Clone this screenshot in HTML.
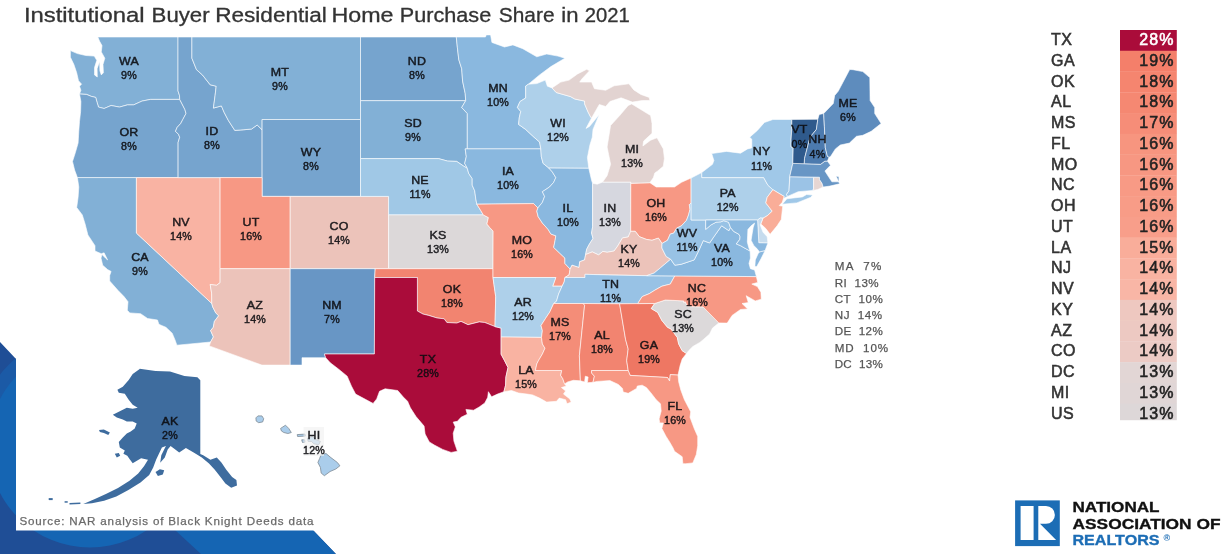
<!DOCTYPE html>
<html><head><meta charset="utf-8"><title>Institutional Buyer Residential Home Purchase Share in 2021</title>
<style>
html,body{margin:0;padding:0;background:#fff;}
body{width:1228px;height:554px;overflow:hidden;position:relative;font-family:"Liberation Sans",sans-serif;}
svg{position:absolute;left:0;top:0;}
svg text{font-family:"Liberation Sans",sans-serif;}
.map path{stroke:rgba(255,255,255,0.85);stroke-width:0.7;stroke-linejoin:round;}
.lab text{font-size:10.7px;text-anchor:middle;fill:#0c0c10;stroke:#0c0c10;stroke-width:0.45;letter-spacing:0.2px;opacity:0.9}
.ls{font-size:16px;fill:#333;stroke:#333;stroke-width:0.55;letter-spacing:0.5px}
.lv{font-size:16px;fill:#222;text-anchor:end;stroke-width:0.55;stroke:#222;letter-spacing:1px}
.sd{font-size:11.6px;fill:#555;stroke:#555;stroke-width:0.25}
</style></head><body>
<svg width="1228" height="554" viewBox="0 0 1228 554">
<!-- decorative corner -->
<g>
<path d="M0,342 L16,359 L16,530 L313,530 L336,554 L0,554Z" fill="#1f4e96"/>
<clipPath id="cp"><path d="M0,342 L16,359 L16,530 L313,530 L336,554 L0,554Z"/></clipPath>
<g clip-path="url(#cp)">
<path d="M175,530 L313,530 L336,554 L201,554Z" fill="#1565b3"/>
<path d="M-25,446 A115,115 0 0 1 205,446Z" fill="#1b5aa6"/>
<circle cx="90" cy="446" r="101.5" fill="#1565b3"/>
</g>
<rect x="16" y="340" width="380" height="190.5" fill="#fff"/>
</g>
<g font-size="19.7" fill="#333" stroke="#333" stroke-width="0.3"><text x="23.9" y="21.5" textLength="120.6" lengthAdjust="spacingAndGlyphs">Institutional</text><text x="151.6" y="21.5" textLength="58.0" lengthAdjust="spacingAndGlyphs">Buyer</text><text x="215.2" y="21.5" textLength="111.7" lengthAdjust="spacingAndGlyphs">Residential</text><text x="331.5" y="21.5" textLength="62.0" lengthAdjust="spacingAndGlyphs">Home</text><text x="399.8" y="21.5" textLength="91.4" lengthAdjust="spacingAndGlyphs">Purchase</text><text x="498.8" y="21.5" textLength="55.7" lengthAdjust="spacingAndGlyphs">Share</text><text x="561.3" y="21.5" textLength="17.2" lengthAdjust="spacingAndGlyphs">in</text><text x="584.8" y="21.5" textLength="45.0" lengthAdjust="spacingAndGlyphs">2021</text></g>
<g class="map">
<path d="M79.5,94.0 80.9,90.3 79.5,86.2 81.6,84.2 78.5,80.7 76.7,72.8 73.9,64.5 70.4,57.2 70.4,50.6 77.4,53.6 85.8,55.5 94.2,56.1 96.8,60.3 94.5,67.6 94.5,74.9 97.3,77.0 97.1,68.7 99.6,61.4 99.9,70.8 101.3,74.9 103.4,72.8 103.0,64.5 104.8,58.2 101.3,51.9 102.0,45.6 99.6,41.3 97.8,37.0 178.0,37.0 178.0,90.9 179.5,95.4 179.7,99.4 150.5,99.4 142.0,101.1 133.6,104.9 127.3,104.9 119.5,107.1 111.1,105.5 104.1,108.5 98.5,107.1 97.1,102.5 95.7,97.4 91.4,96.4 86.5,94.4 79.5,94.0Z" fill="#82b0d6"/>
<path d="M77.4,177.6 74.6,170.0 72.5,161.4 75.3,152.8 78.1,143.1 78.8,131.3 79.5,121.5 80.6,111.5 80.9,101.5 79.5,94.0 86.5,94.4 91.4,96.4 95.7,97.4 97.1,102.5 98.5,107.1 104.1,108.5 111.1,105.5 119.5,107.1 127.3,104.9 133.6,104.9 142.0,101.1 150.5,99.4 179.7,99.4 181.6,103.1 184.9,109.5 186.0,113.5 182.8,119.5 180.7,123.5 177.1,127.4 175.5,131.3 178.5,134.3 179.7,137.2 178.1,142.5 178.1,177.6 77.4,177.6Z" fill="#76a4ce"/>
<path d="M176.9,345.2 175.0,339.9 172.2,333.2 165.9,327.3 161.0,325.2 158.9,324.2 157.5,320.0 147.6,318.5 140.6,313.7 129.8,312.9 127.3,310.3 128.0,301.7 124.0,296.6 118.1,290.5 109.7,281.0 109.7,275.4 111.1,271.4 107.6,269.6 102.7,265.2 101.0,258.1 102.0,254.6 105.5,258.1 107.6,259.9 104.1,252.8 101.3,253.7 95.0,251.0 95.0,245.7 87.9,234.9 85.1,224.0 82.3,214.9 76.7,207.5 78.1,197.3 78.8,187.0 77.4,177.6 136.4,177.6 136.4,233.1 211.8,303.5 212.7,306.9 215.8,312.9 218.6,315.8 214.4,321.4 213.3,327.3 210.6,330.6 213.4,336.9 210.6,342.0Z" fill="#82b0d6"/>
<path d="M136.4,177.6 220.1,177.6 220.1,268.7 220.1,282.7 216.5,285.3 210.2,284.5 211.6,293.1 211.8,303.5 136.4,233.1 136.4,177.6Z" fill="#f9b3a3"/>
<path d="M178.0,37.0 178.0,90.9 179.5,95.4 179.7,99.4 181.6,103.1 184.9,109.5 186.0,113.5 182.8,119.5 180.7,123.5 177.1,127.4 175.5,131.3 178.5,134.3 179.7,137.2 178.1,142.5 178.1,177.6 262.1,177.6 262.1,129.8 257.2,125.0 251.6,129.0 243.2,129.8 234.8,130.4 228.4,120.5 224.2,112.5 221.4,105.9 213.4,108.1 215.1,95.4 216.2,86.2 210.2,84.8 202.4,74.9 196.5,69.7 191.9,58.2 191.9,37.0Z" fill="#76a4ce"/>
<path d="M191.9,37.0 191.9,58.2 196.5,69.7 202.4,74.9 210.2,84.8 216.2,86.2 215.1,95.4 213.4,108.1 221.4,105.9 224.2,112.5 228.4,120.5 234.8,130.4 243.2,129.8 251.6,129.0 257.2,125.0 262.1,129.8 262.1,119.5 360.5,119.5 360.5,37.0Z" fill="#82b0d6"/>
<path d="M262.1,119.5 360.5,119.5 360.5,196.4 262.1,196.4Z" fill="#76a4ce"/>
<path d="M220.1,177.6 262.1,177.6 262.1,196.4 290.2,196.4 290.2,268.7 220.1,268.7Z" fill="#f79884"/>
<path d="M290.2,196.4 388.6,196.4 388.6,268.7 290.2,268.7Z" fill="#ecc3ba"/>
<path d="M220.1,268.7 220.1,282.7 216.5,285.3 210.2,284.5 211.6,293.1 211.8,303.5 212.7,306.9 215.8,312.9 218.6,315.8 214.4,321.4 213.3,327.3 210.6,330.6 213.4,336.9 210.6,342.0 209.3,345.9 261.9,365.1 290.2,365.1 290.2,268.7Z" fill="#ecc3ba"/>
<path d="M290.2,268.7 375.2,268.7 374.7,277.5 374.4,354.0 324.4,354.0 325.7,357.7 302.0,357.7 302.0,365.1 290.2,365.1Z" fill="#6896c5"/>
<path d="M360.5,37.0 456.3,37.0 457.4,47.7 458.8,59.7 461.7,68.7 462.6,81.1 465.2,93.4 465.7,100.7 360.5,100.7Z" fill="#76a4ce"/>
<path d="M360.5,100.7 465.7,100.7 461.7,107.5 467.3,113.5 467.3,148.9 465.2,148.9 466.3,156.6 464.7,163.4 467.3,168.3 463.8,166.2 456.7,161.4 447.6,161.1 438.5,158.6 360.5,158.6Z" fill="#82b0d6"/>
<path d="M360.5,158.6 438.5,158.6 447.6,161.1 456.7,161.4 463.8,166.2 467.3,168.3 468.7,173.4 472.2,178.6 472.2,185.2 474.7,190.8 475.7,198.2 476.8,204.2 480.6,210.3 483.3,214.9 388.6,214.9 388.6,196.4 360.5,196.4Z" fill="#a0c8e6"/>
<path d="M388.6,214.9 483.3,214.9 488.4,217.6 486.9,224.0 489.8,227.6 493.1,231.1 493.0,268.7 388.6,268.7Z" fill="#dcd8d9"/>
<path d="M375.2,268.7 493.0,268.7 493.0,277.5 495.7,296.6 495.0,326.6 484.8,322.5 479.2,321.9 468.0,324.7 461.0,321.4 456.7,323.1 446.9,322.5 444.1,318.8 437.1,318.0 428.6,315.4 423.0,314.1 417.4,311.0 417.4,277.5 374.7,277.5Z" fill="#f28470"/>
<path d="M374.7,277.5 417.4,277.5 417.4,311.0 423.0,314.1 428.6,315.4 437.1,318.0 444.1,318.8 446.9,322.5 456.7,323.1 461.0,321.4 468.0,324.7 479.2,321.9 484.8,322.5 495.0,326.6 501.1,328.1 501.1,337.0 501.1,354.2 504.5,360.6 508.0,367.5 505.9,377.0 505.6,385.2 503.9,391.7 497.5,394.1 491.6,396.8 488.4,391.7 487.7,397.3 484.8,402.9 479.2,407.0 473.6,410.2 465.9,409.4 467.3,414.2 461.0,417.3 457.4,421.3 453.2,422.1 455.3,426.9 453.2,433.2 453.9,441.1 457.4,451.3 451.1,452.4 442.7,449.4 434.3,445.0 429.3,441.9 425.1,434.0 424.1,426.1 416.0,416.5 410.4,407.8 407.6,401.3 403.3,397.0 397.7,390.5 385.1,388.8 379.5,391.3 376.7,398.9 373.1,403.4 364.0,398.6 355.6,394.1 351.4,386.0 347.2,376.2 338.7,369.2 330.3,362.8 325.7,357.7 324.4,354.0 374.4,354.0Z" fill="#aa0c3a"/>
<path d="M456.3,37.0 485.5,37.0 486.2,34.9 490.6,34.9 491.9,42.4 504.5,47.0 512.9,44.9 522.8,48.7 536.8,56.8 546.7,54.0 557.9,56.1 564.9,58.2 550.9,66.6 539.6,74.9 528.4,84.2 525.7,86.0 525.7,98.0 520.0,101.5 517.4,107.5 520.7,111.5 519.3,117.5 518.6,124.4 525.6,129.4 534.0,137.2 539.6,142.1 540.8,148.9 467.3,148.9 467.3,113.5 461.7,107.5 465.7,100.7 465.2,93.4 462.6,81.1 461.7,68.7 458.8,59.7 457.4,47.7 456.3,37.0Z" fill="#8ab8df"/>
<path d="M467.3,148.9 540.8,148.9 541.3,156.6 543.1,163.4 548.9,168.1 552.3,171.9 555.8,177.6 553.7,182.3 549.5,187.0 542.4,191.7 544.6,196.4 542.4,202.3 537.9,207.9 533.6,203.6 476.8,204.2 475.7,198.2 474.7,190.8 472.2,185.2 472.2,178.6 468.7,173.4 467.3,168.3 464.7,163.4 466.3,156.6 465.2,148.9Z" fill="#8ab8df"/>
<path d="M476.8,204.2 533.6,203.6 537.9,207.9 536.8,211.2 538.2,216.7 542.4,223.1 548.1,229.4 550.9,234.0 555.8,235.8 555.1,240.3 553.7,247.4 559.3,252.8 564.9,258.1 564.9,263.4 570.1,269.1 569.1,274.9 564.9,277.5 564.2,281.9 562.1,286.2 552.7,286.2 555.8,277.5 493.0,277.5 493.0,268.7 493.1,231.1 489.8,227.6 486.9,224.0 488.4,217.6 483.3,214.9 480.6,210.3 476.8,204.2Z" fill="#f79884"/>
<path d="M493.0,277.5 555.8,277.5 552.7,286.2 562.1,286.2 558.6,294.0 556.5,301.2 553.7,303.5 549.8,312.0 545.3,318.8 541.0,325.6 542.4,330.6 541.5,337.4 501.1,337.0 501.1,328.1 495.0,326.6 495.7,296.6Z" fill="#aed0ea"/>
<path d="M501.1,337.0 541.5,337.4 542.4,344.0 545.0,348.2 542.4,354.0 538.5,360.6 536.8,363.9 535.4,370.5 561.7,370.5 560.7,375.4 562.8,378.7 564.6,383.9 566.3,386.0 561.4,387.6 565.6,390.9 563.5,394.1 569.8,398.9 571.2,402.1 567.0,403.8 565.6,399.7 559.3,398.1 556.5,401.3 546.7,402.1 539.6,398.1 532.6,394.9 527.0,394.1 518.6,393.0 511.5,390.5 503.9,391.7 505.6,385.2 505.9,377.0 508.0,367.5 504.5,360.6 501.1,354.2 501.1,337.0Z" fill="#f9b3a2"/>
<path d="M528.4,84.2 536.8,83.6 545.3,80.1 547.4,86.2 552.0,87.9 556.2,92.5 570.5,96.6 574.8,99.0 584.6,101.1 584.6,103.9 588.1,112.1 590.9,117.5 591.6,117.9 586.0,128.4 589.5,126.4 599.3,114.5 593.0,129.4 592.3,137.2 589.9,145.0 587.4,157.6 588.8,168.3 548.9,168.1 543.1,163.4 541.3,156.6 540.8,148.9 539.6,142.1 534.0,137.2 525.6,129.4 518.6,124.4 519.3,117.5 520.7,111.5 517.4,107.5 520.0,101.5 525.7,98.0 525.7,86.0 528.4,84.2Z" fill="#aed0ea"/>
<path d="M548.9,168.1 588.8,168.3 591.6,180.4 592.6,183.3 592.6,226.7 591.6,233.1 593.0,238.5 589.5,243.9 586.7,249.2 585.6,254.6 584.6,259.9 579.7,261.7 579.0,267.5 572.0,265.2 570.1,269.1 564.9,263.4 564.9,258.1 559.3,252.8 553.7,247.4 555.1,240.3 555.8,235.8 550.9,234.0 548.1,229.4 542.4,223.1 538.2,216.7 536.8,211.2 537.9,207.9 542.4,202.3 544.6,196.4 542.4,191.7 549.5,187.0 553.7,182.3 555.8,177.6 552.3,171.9 548.9,168.1Z" fill="#8ab8df"/>
<path d="M592.6,183.3 597.2,184.2 602.6,182.1 630.8,182.1 630.7,231.3 628.2,237.0 622.5,237.9 617.6,246.2 614.1,251.0 607.1,252.3 602.9,251.4 598.6,254.9 592.3,251.9 585.6,254.6 586.7,249.2 589.5,243.9 593.0,238.5 591.6,233.1 592.6,226.7 592.6,183.3Z" fill="#d6d7df"/>
<path d="M630.8,183.3 649.9,182.7 656.2,187.0 660.5,187.0 670.3,187.0 674.5,187.0 681.5,182.3 691.1,178.0 691.1,203.1 689.3,204.7 690.0,209.3 688.6,214.9 686.5,220.3 681.5,225.8 676.6,228.2 673.8,233.1 670.3,234.0 667.5,240.3 662.0,243.5 658.4,238.1 652.0,240.3 646.4,239.4 639.4,236.7 635.2,231.3 630.7,231.3Z" fill="#f79884"/>
<path d="M570.1,269.1 572.0,265.2 579.0,267.5 579.7,261.7 584.6,259.9 585.6,254.6 592.3,251.9 598.6,254.9 602.9,251.4 607.1,252.3 614.1,251.0 617.6,246.2 622.5,237.9 628.2,237.0 630.7,231.3 635.2,231.3 639.4,236.7 646.4,239.4 652.0,240.3 658.4,238.1 662.0,243.5 661.9,248.0 666.1,256.4 670.7,259.2 660.5,267.8 654.1,273.1 646.7,275.7 607.1,274.9 585.0,274.3 585.0,277.5 564.9,277.5 569.1,274.9 570.1,269.1Z" fill="#ecc3ba"/>
<path d="M564.9,277.5 585.0,277.5 585.0,274.3 607.1,274.9 646.7,275.7 674.8,275.9 670.3,284.1 661.9,286.2 654.8,290.2 649.2,293.7 642.2,296.6 637.7,303.6 619.6,303.8 583.2,303.5 553.7,303.5 556.5,301.2 558.6,294.0 562.1,286.2 564.2,281.9Z" fill="#98c2e5"/>
<path d="M553.7,303.5 583.2,303.5 584.6,305.2 579.4,355.7 580.4,380.8 573.4,380.3 567.7,381.9 564.6,383.9 562.8,378.7 560.7,375.4 561.7,370.5 535.4,370.5 536.8,363.9 538.5,360.6 542.4,354.0 545.0,348.2 542.4,344.0 541.5,337.4 542.4,330.6 541.0,325.6 545.3,318.8 549.8,312.0 553.7,303.5Z" fill="#f48d78"/>
<path d="M583.2,303.5 619.6,303.8 625.6,339.5 628.2,349.0 626.7,360.6 628.2,370.5 591.6,370.5 591.6,373.0 594.4,376.2 593.0,382.3 587.4,382.7 588.1,377.0 585.3,376.2 584.6,381.9 580.4,380.8 579.4,355.7 584.6,305.2 583.2,303.5Z" fill="#f28470"/>
<path d="M619.6,303.8 637.7,303.6 654.7,303.5 651.3,308.6 657.7,312.4 661.9,320.5 667.5,327.3 671.0,329.0 677.3,337.4 678.7,344.0 682.2,350.7 686.5,353.5 682.2,359.0 680.1,365.6 678.0,375.1 670.3,374.6 669.6,381.0 667.5,377.5 630.1,375.4 628.2,370.5 626.7,360.6 628.2,349.0 625.6,339.5 619.6,303.8Z" fill="#ee7763"/>
<path d="M593.0,382.3 594.4,376.2 591.6,373.0 591.6,370.5 628.2,370.5 630.1,375.4 667.5,377.5 669.6,381.0 670.3,374.6 678.0,375.1 678.7,381.9 680.8,390.0 684.4,399.7 690.7,411.8 690.0,417.3 694.2,428.5 697.7,436.4 697.7,445.8 696.3,454.4 692.8,462.9 685.8,463.7 682.9,463.7 682.2,456.7 674.5,451.3 673.1,448.1 669.6,441.9 666.1,436.4 661.9,428.5 663.3,422.9 659.8,422.9 659.1,418.9 661.2,411.0 660.5,403.8 656.2,399.7 650.6,392.5 646.4,387.6 642.2,385.2 637.3,386.0 636.6,388.4 628.2,393.3 623.2,392.0 622.5,388.4 618.3,384.4 609.9,380.6 597.2,381.4Z" fill="#f79884"/>
<path d="M654.7,303.5 665.4,300.0 683.8,300.9 683.8,302.6 685.3,301.7 687.4,306.5 703.0,306.9 718.8,322.9 712.5,328.1 709.6,334.0 704.0,339.0 699.8,342.4 692.8,346.5 688.6,350.7 686.5,353.5 682.2,350.7 678.7,344.0 677.3,337.4 671.0,329.0 667.5,327.3 661.9,320.5 657.7,312.4 651.3,308.6 654.7,303.5Z" fill="#dcd9da"/>
<path d="M637.7,303.6 642.2,296.6 649.2,293.7 654.8,290.2 661.9,286.2 670.3,284.1 674.8,275.9 756.4,276.6 757.7,282.4 751.8,284.1 757.4,286.6 760.9,292.3 761.3,299.2 755.3,300.9 746.2,295.7 748.3,302.6 742.0,303.5 747.6,308.9 740.5,309.5 732.1,315.4 727.2,323.1 718.8,322.9 703.0,306.9 687.4,306.5 685.3,301.7 683.8,302.6 683.8,300.9 665.4,300.0 654.7,303.5Z" fill="#f79884"/>
<path d="M646.7,275.7 654.1,273.1 660.5,267.8 670.7,259.2 674.8,265.2 681.1,264.3 694.2,259.9 698.4,251.4 703.3,240.6 709.6,243.0 713.9,236.7 721.6,225.8 728.9,230.7 730.4,227.3 733.5,231.3 738.9,234.3 740.1,236.7 739.8,239.4 736.3,243.9 740.5,245.7 746.2,248.9 750.1,251.0 750.4,258.1 749.0,263.4 750.4,268.7 754.6,270.0 756.4,276.6 674.8,275.9Z" fill="#8ab8df"/>
<path d="M754.9,266.6 755.3,259.9 758.1,253.7 759.5,251.9 765.1,250.5 760.9,259.0 756.7,266.6Z" fill="#8ab8df"/>
<path d="M662.0,243.5 667.5,240.3 670.3,234.0 673.8,233.1 676.6,228.2 681.5,225.8 686.5,220.3 688.6,214.9 690.0,209.3 689.3,204.7 691.1,203.1 691.1,220.0 705.7,220.0 705.7,229.4 711.0,224.9 716.0,222.2 720.9,221.8 723.7,220.7 728.6,222.2 730.4,227.3 728.9,230.7 721.6,225.8 713.9,236.7 709.6,243.0 703.3,240.6 698.4,251.4 694.2,259.9 681.1,264.3 674.8,265.2 670.7,259.2 666.1,256.4 661.9,248.0 662.0,243.5Z" fill="#98c2e5"/>
<path d="M691.1,178.0 701.8,172.5 701.8,177.6 763.7,177.6 767.9,185.2 772.9,189.7 767.2,197.3 765.8,202.9 772.2,211.2 767.2,215.8 763.0,218.2 760.2,218.0 757.6,220.0 691.1,220.0Z" fill="#aed0ea"/>
<path d="M701.8,177.6 701.8,172.5 712.5,164.3 713.9,160.5 711.7,153.6 726.5,151.4 740.5,153.2 747.6,148.9 751.8,147.9 751.8,139.2 749.7,137.2 757.4,130.4 764.4,122.5 772.9,119.5 791.8,119.5 791.8,129.4 791.1,139.2 791.1,147.0 793.2,147.0 792.8,163.4 789.7,176.7 789.0,190.8 786.5,194.5 787.6,196.4 784.1,198.2 782.7,201.9 784.1,196.4 772.9,189.7 767.9,185.2 763.7,177.6Z" fill="#a0c8e8"/>
<path d="M782.3,204.2 796.8,202.9 810.8,197.3 812.6,195.1 806.6,194.5 802.4,196.9 786.9,198.8Z" fill="#a0c8e8"/>
<path d="M772.9,189.7 784.1,196.4 782.3,202.3 779.2,205.6 782.7,206.2 781.3,219.4 777.1,225.8 770.1,234.3 765.8,228.5 760.9,224.0 763.0,218.2 767.2,215.8 772.2,211.2 765.8,202.9 767.2,197.3 772.9,189.7Z" fill="#f9ad98"/>
<path d="M757.6,220.0 760.2,218.0 763.0,218.2 760.2,224.9 763.0,232.2 767.2,236.7 767.9,243.0 758.8,242.8Z" fill="#c6dcee"/>
<path d="M705.7,220.0 757.6,220.0 758.8,242.8 767.9,243.0 765.1,250.5 759.5,251.9 756.7,248.3 753.9,245.7 751.1,240.3 752.1,234.0 753.2,227.6 754.6,223.1 751.1,225.8 747.9,229.4 747.6,235.8 747.3,242.1 748.7,247.4 750.1,251.0 746.2,248.9 740.5,245.7 736.3,243.9 739.8,239.4 740.1,236.7 738.9,234.3 733.5,231.3 730.4,227.3 728.6,222.2 723.7,220.7 720.9,221.8 716.0,222.2 711.0,224.9 705.7,229.4Z" fill="#8ab8df"/>
<path d="M789.9,176.7 813.6,177.2 813.6,188.9 812.8,190.4 798.2,191.7 787.6,196.4 786.5,194.5 789.0,190.8Z" fill="#9bc3e6"/>
<path d="M813.6,177.2 819.5,177.2 819.5,179.5 822.0,183.3 823.2,187.0 817.8,189.5 812.8,190.4 813.6,188.9Z" fill="#e6d6d3"/>
<path d="M789.7,176.7 792.8,163.4 804.3,163.7 820.6,164.3 824.9,161.1 827.4,161.1 830.5,165.3 824.9,171.0 829.1,177.6 831.9,181.8 838.9,181.8 838.9,176.7 836.1,176.1 839.6,183.8 829.8,186.1 823.2,187.0 822.0,183.3 819.5,179.5 819.5,177.2Z" fill="#6896c5"/>
<path d="M791.8,119.5 817.8,119.3 816.4,129.4 810.1,137.2 808.0,145.0 804.5,158.6 804.3,163.7 792.8,163.4 793.2,147.0 791.1,147.0 791.1,139.2 791.8,129.4 791.8,119.5Z" fill="#2f5a8c"/>
<path d="M817.8,119.3 816.4,129.4 810.1,137.2 808.0,145.0 804.5,158.6 804.3,163.7 820.6,164.3 824.9,161.1 827.4,161.1 829.1,157.2 827.4,156.3 825.3,147.6 824.4,126.4 823.7,113.5 819.2,114.5Z" fill="#4c7aae"/>
<path d="M823.7,113.5 833.3,103.5 834.7,95.4 838.2,91.3 849.7,69.5 853.0,69.7 862.8,71.6 869.8,77.6 870.1,100.5 874.7,107.5 874.7,113.5 881.1,123.5 871.2,131.3 862.8,135.3 856.5,136.3 849.4,143.1 840.3,145.0 835.4,148.9 830.5,156.6 829.1,157.2 827.4,156.3 825.3,147.6 824.4,126.4Z" fill="#5e8cbd"/>
<path d="M602.6,182.1 607.1,175.7 610.6,164.3 607.1,147.0 610.6,125.4 619.7,115.5 628.2,105.5 631.7,103.9 640.8,109.5 650.6,115.5 652.0,123.5 652.0,133.3 643.6,141.1 642.9,146.0 650.6,140.2 657.0,137.8 663.3,148.9 664.4,158.6 663.3,166.2 657.7,171.0 654.8,172.9 653.4,177.6 649.9,182.7 630.8,183.3 630.8,182.1Z" fill="#e2d3d1"/>
<path d="M552.0,87.9 560.7,82.1 569.1,80.1 577.6,73.9 586.7,69.3 589.5,70.8 581.8,79.0 579.7,82.1 591.6,82.1 594.4,88.7 605.7,90.3 614.1,85.8 628.9,83.8 633.8,89.9 640.8,94.4 649.2,97.4 649.9,100.5 642.2,100.5 632.4,102.1 621.1,97.8 609.9,101.5 605.7,106.5 599.3,104.5 591.6,117.9 590.9,117.5 588.1,112.1 584.6,103.9 584.6,101.1 574.8,99.0 570.5,96.6 556.2,92.5 552.0,87.9Z" fill="#e2d3d1"/>
<path d="M139.7,368.7 155.5,371.0 170.0,371.6 184.4,375.9 197.4,377.3 200.3,380.2 200.3,453.9 203.2,455.3 210.4,459.7 216.8,457.6 221.4,462.5 226.3,469.8 232.1,477.0 236.4,479.9 237.0,485.6 231.2,487.7 225.4,483.6 220.5,477.0 214.8,469.8 209.0,463.4 201.8,457.6 194.5,453.0 185.9,448.1 179.2,452.4 174.6,449.0 170.6,446.1 167.7,449.5 164.8,457.6 160.2,462.8 161.3,455.3 165.9,446.1 161.9,447.5 156.1,459.7 153.2,467.5 149.2,475.0 140.5,482.5 128.4,490.0 116.3,496.6 104.1,500.7 92.0,503.3 83.3,504.1 94.9,498.9 106.4,493.7 118.0,488.0 129.5,480.7 138.2,473.5 144.0,466.3 148.0,459.7 141.1,458.2 132.7,463.3 129.7,459.3 127.3,455.8 123.4,453.8 124.8,450.4 119.8,447.4 118.8,441.9 122.8,437.5 126.8,433.5 130.7,431.5 134.7,428.5 136.7,423.6 132.7,421.6 126.8,421.6 122.8,419.6 116.8,417.6 112.8,414.7 120.8,410.7 126.8,407.7 132.7,408.7 137.7,407.7 132.7,404.7 128.7,399.7 124.8,393.8 118.8,392.8 117.4,389.8 122.8,386.8 128.7,379.9 132.7,373.9 139.7,369.0Z" fill="#3e6c9e" stroke="none" style="stroke:none"/>
<path d="M99.0,429.9 103.9,429.6 109.9,432.5 108.3,435.1 103.9,433.1 99.9,431.9Z" fill="#3e6c9e" stroke="none" style="stroke:none"/>
<path d="M114.8,453.8 118.8,453.0 120.2,455.8 116.8,457.4Z" fill="#3e6c9e" stroke="none" style="stroke:none"/>
<path d="M155.5,472.1 159.9,469.2 164.2,470.3 162.8,474.4 157.9,476.1Z" fill="#3e6c9e" stroke="none" style="stroke:none"/>
<path d="M48.7,498.1 52.7,498.1 52.7,500.1 48.7,500.1Z" fill="#3e6c9e" stroke="none" style="stroke:none"/>
<path d="M64.6,501.2 67.7,501.2 67.7,502.7 64.6,502.7Z" fill="#3e6c9e" stroke="none" style="stroke:none"/>
<path d="M69.5,503.0 80.4,502.4 80.4,504.1 69.5,504.4Z" fill="#3e6c9e" stroke="none" style="stroke:none"/>
<path d="M255.9,417.9 257.9,415.9 261.9,415.9 263.7,418.7 262.7,421.9 258.7,422.7 256.2,421.1Z" fill="#aacdeb" style="stroke:#7f8a94;stroke-width:0.8"/>
<path d="M280.6,428.4 285.5,425.2 288.7,428.4 291.3,432.5 287.9,433.5 283.8,432.5 281.4,430.9Z" fill="#aacdeb" style="stroke:#7f8a94;stroke-width:0.8"/>
<path d="M297.2,434.6 305.0,434.1 305.3,436.1 297.6,436.5Z" fill="#aacdeb" style="stroke:#7f8a94;stroke-width:0.8"/>
<path d="M301.7,439.8 304.6,439.8 305.0,442.2 302.5,442.5Z" fill="#aacdeb" style="stroke:#7f8a94;stroke-width:0.8"/>
<path d="M307.4,438.2 312.3,436.5 316.3,439.8 320.4,441.4 318.8,444.7 313.9,443.8 311.5,441.4 308.2,441.4Z" fill="#aacdeb" style="stroke:#7f8a94;stroke-width:0.8"/>
<path d="M321.2,454.4 326.1,453.6 330.9,457.6 337.4,462.5 339.9,465.8 335.8,469.0 330.1,471.5 324.4,475.7 321.2,473.1 320.4,467.4 317.9,462.5 319.6,458.5Z" fill="#aacdeb" style="stroke:#7f8a94;stroke-width:0.8"/>
</g>
<rect x="303.5" y="427" width="20.5" height="29" fill="#f1f1f1" opacity="0.65"/>
<g class="lab">
<text transform="translate(129.0,64.5) scale(1.16,1)">WA</text><text transform="translate(129.0,79.3) scale(1.0,1)">9%</text>
<text transform="translate(129.0,135.5) scale(1.16,1)">OR</text><text transform="translate(129.0,150.3) scale(1.0,1)">8%</text>
<text transform="translate(140.0,260.5) scale(1.16,1)">CA</text><text transform="translate(140.0,275.3) scale(1.0,1)">9%</text>
<text transform="translate(181.0,225.5) scale(1.16,1)">NV</text><text transform="translate(181.0,240.3) scale(1.0,1)">14%</text>
<text transform="translate(212.0,134.5) scale(1.16,1)">ID</text><text transform="translate(212.0,149.3) scale(1.0,1)">8%</text>
<text transform="translate(280.0,75.5) scale(1.16,1)">MT</text><text transform="translate(280.0,90.3) scale(1.0,1)">9%</text>
<text transform="translate(311.0,155.5) scale(1.16,1)">WY</text><text transform="translate(311.0,170.3) scale(1.0,1)">8%</text>
<text transform="translate(251.0,225.5) scale(1.16,1)">UT</text><text transform="translate(251.0,240.3) scale(1.0,1)">16%</text>
<text transform="translate(339.0,229.5) scale(1.16,1)">CO</text><text transform="translate(339.0,244.3) scale(1.0,1)">14%</text>
<text transform="translate(255.0,308.5) scale(1.16,1)">AZ</text><text transform="translate(255.0,323.3) scale(1.0,1)">14%</text>
<text transform="translate(332.0,308.5) scale(1.16,1)">NM</text><text transform="translate(332.0,323.3) scale(1.0,1)">7%</text>
<text transform="translate(417.0,64.5) scale(1.16,1)">ND</text><text transform="translate(417.0,79.3) scale(1.0,1)">8%</text>
<text transform="translate(413.0,126.5) scale(1.16,1)">SD</text><text transform="translate(413.0,141.3) scale(1.0,1)">9%</text>
<text transform="translate(420.0,183.5) scale(1.16,1)">NE</text><text transform="translate(420.0,198.3) scale(1.0,1)">11%</text>
<text transform="translate(438.0,238.5) scale(1.16,1)">KS</text><text transform="translate(438.0,253.3) scale(1.0,1)">13%</text>
<text transform="translate(452.0,292.5) scale(1.16,1)">OK</text><text transform="translate(452.0,307.3) scale(1.0,1)">18%</text>
<text transform="translate(428.0,362.5) scale(1.16,1)">TX</text><text transform="translate(428.0,377.3) scale(1.0,1)">28%</text>
<text transform="translate(498.0,91.5) scale(1.16,1)">MN</text><text transform="translate(498.0,106.3) scale(1.0,1)">10%</text>
<text transform="translate(508.0,174.5) scale(1.16,1)">IA</text><text transform="translate(508.0,189.3) scale(1.0,1)">10%</text>
<text transform="translate(522.0,243.5) scale(1.16,1)">MO</text><text transform="translate(522.0,258.3) scale(1.0,1)">16%</text>
<text transform="translate(523.0,305.5) scale(1.16,1)">AR</text><text transform="translate(523.0,320.3) scale(1.0,1)">12%</text>
<text transform="translate(526.0,373.5) scale(1.16,1)">LA</text><text transform="translate(526.0,388.3) scale(1.0,1)">15%</text>
<text transform="translate(558.0,126.5) scale(1.16,1)">WI</text><text transform="translate(558.0,141.3) scale(1.0,1)">12%</text>
<text transform="translate(568.0,211.5) scale(1.16,1)">IL</text><text transform="translate(568.0,226.3) scale(1.0,1)">10%</text>
<text transform="translate(610.0,211.5) scale(1.16,1)">IN</text><text transform="translate(610.0,226.3) scale(1.0,1)">13%</text>
<text transform="translate(632.0,152.5) scale(1.16,1)">MI</text><text transform="translate(632.0,167.3) scale(1.0,1)">13%</text>
<text transform="translate(656.0,206.5) scale(1.16,1)">OH</text><text transform="translate(656.0,221.3) scale(1.0,1)">16%</text>
<text transform="translate(629.0,252.5) scale(1.16,1)">KY</text><text transform="translate(629.0,267.3) scale(1.0,1)">14%</text>
<text transform="translate(610.7,287.5) scale(1.16,1)">TN</text><text transform="translate(610.7,302.3) scale(1.0,1)">11%</text>
<text transform="translate(560.0,325.5) scale(1.16,1)">MS</text><text transform="translate(560.0,340.3) scale(1.0,1)">17%</text>
<text transform="translate(602.0,338.5) scale(1.16,1)">AL</text><text transform="translate(602.0,353.3) scale(1.0,1)">18%</text>
<text transform="translate(649.0,348.5) scale(1.16,1)">GA</text><text transform="translate(649.0,363.3) scale(1.0,1)">19%</text>
<text transform="translate(675.0,409.5) scale(1.16,1)">FL</text><text transform="translate(675.0,424.3) scale(1.0,1)">16%</text>
<text transform="translate(683.0,317.5) scale(1.16,1)">SC</text><text transform="translate(683.0,332.3) scale(1.0,1)">13%</text>
<text transform="translate(697.0,291.5) scale(1.16,1)">NC</text><text transform="translate(697.0,306.3) scale(1.0,1)">16%</text>
<text transform="translate(722.0,251.5) scale(1.16,1)">VA</text><text transform="translate(722.0,266.3) scale(1.0,1)">10%</text>
<text transform="translate(687.0,236.5) scale(1.16,1)">WV</text><text transform="translate(687.0,251.3) scale(1.0,1)">11%</text>
<text transform="translate(727.7,196.5) scale(1.16,1)">PA</text><text transform="translate(727.7,211.3) scale(1.0,1)">12%</text>
<text transform="translate(761.7,155.3) scale(1.16,1)">NY</text><text transform="translate(761.7,170.1) scale(1.0,1)">11%</text>
<text transform="translate(799.5,133.4) scale(1.16,1)">VT</text><text transform="translate(799.5,148.2) scale(1.0,1)">0%</text>
<text transform="translate(817.5,142.8) scale(1.16,1)">NH</text><text transform="translate(817.5,157.6) scale(1.0,1)">4%</text>
<text transform="translate(848.0,106.5) scale(1.16,1)">ME</text><text transform="translate(848.0,121.3) scale(1.0,1)">6%</text>
<text transform="translate(170.0,424.5) scale(1.16,1)">AK</text><text transform="translate(170.0,439.3) scale(1.0,1)">2%</text>
<text transform="translate(314.0,438.7) scale(1.16,1)">HI</text><text transform="translate(314.0,453.5) scale(1.0,1)">12%</text>
</g>
<g>
<text x="834.7" y="270.4" class="sd" textLength="46.6" lengthAdjust="spacing" style="white-space:pre">MA  7%</text>
<text x="834.7" y="286.6" class="sd" textLength="43.9" lengthAdjust="spacing" style="white-space:pre">RI  13%</text>
<text x="834.7" y="302.9" class="sd" textLength="48.0" lengthAdjust="spacing" style="white-space:pre">CT  10%</text>
<text x="834.7" y="319.1" class="sd" textLength="47.4" lengthAdjust="spacing" style="white-space:pre">NJ  14%</text>
<text x="834.7" y="335.4" class="sd" textLength="48.0" lengthAdjust="spacing" style="white-space:pre">DE  12%</text>
<text x="834.7" y="351.6" class="sd" textLength="53.4" lengthAdjust="spacing" style="white-space:pre">MD  10%</text>
<text x="834.7" y="367.9" class="sd" textLength="48.0" lengthAdjust="spacing" style="white-space:pre">DC  13%</text>
</g>
<g>
<rect x="1120" y="30.00" width="56.8" height="21.06" fill="#aa0c3a"/>
<text x="1051" y="45.0" class="ls">TX</text>
<text x="1174.4" y="45.0" class="lv" style="fill:#fff;stroke:#fff">28%</text>
<rect x="1120" y="50.76" width="56.8" height="21.06" fill="#f47f6a"/>
<text x="1051" y="65.8" class="ls">GA</text>
<text x="1174.4" y="65.8" class="lv" style="">19%</text>
<rect x="1120" y="71.52" width="56.8" height="21.06" fill="#f5856f"/>
<text x="1051" y="86.5" class="ls">OK</text>
<text x="1174.4" y="86.5" class="lv" style="">18%</text>
<rect x="1120" y="92.28" width="56.8" height="21.06" fill="#f58872"/>
<text x="1051" y="107.3" class="ls">AL</text>
<text x="1174.4" y="107.3" class="lv" style="">18%</text>
<rect x="1120" y="113.04" width="56.8" height="21.06" fill="#f68d78"/>
<text x="1051" y="128.0" class="ls">MS</text>
<text x="1174.4" y="128.0" class="lv" style="">17%</text>
<rect x="1120" y="133.80" width="56.8" height="21.06" fill="#f7957f"/>
<text x="1051" y="148.8" class="ls">FL</text>
<text x="1174.4" y="148.8" class="lv" style="">16%</text>
<rect x="1120" y="154.56" width="56.8" height="21.06" fill="#f79782"/>
<text x="1051" y="169.6" class="ls">MO</text>
<text x="1174.4" y="169.6" class="lv" style="">16%</text>
<rect x="1120" y="175.32" width="56.8" height="21.06" fill="#f89a85"/>
<text x="1051" y="190.3" class="ls">NC</text>
<text x="1174.4" y="190.3" class="lv" style="">16%</text>
<rect x="1120" y="196.08" width="56.8" height="21.06" fill="#f89c87"/>
<text x="1051" y="211.1" class="ls">OH</text>
<text x="1174.4" y="211.1" class="lv" style="">16%</text>
<rect x="1120" y="216.84" width="56.8" height="21.06" fill="#f89e8a"/>
<text x="1051" y="231.8" class="ls">UT</text>
<text x="1174.4" y="231.8" class="lv" style="">16%</text>
<rect x="1120" y="237.60" width="56.8" height="21.06" fill="#f9ad9a"/>
<text x="1051" y="252.6" class="ls">LA</text>
<text x="1174.4" y="252.6" class="lv" style="">15%</text>
<rect x="1120" y="258.36" width="56.8" height="21.06" fill="#f9b3a2"/>
<text x="1051" y="273.4" class="ls">NJ</text>
<text x="1174.4" y="273.4" class="lv" style="">14%</text>
<rect x="1120" y="279.12" width="56.8" height="21.06" fill="#f9b6a6"/>
<text x="1051" y="294.1" class="ls">NV</text>
<text x="1174.4" y="294.1" class="lv" style="">14%</text>
<rect x="1120" y="299.88" width="56.8" height="21.06" fill="#eec8c0"/>
<text x="1051" y="314.9" class="ls">KY</text>
<text x="1174.4" y="314.9" class="lv" style="">14%</text>
<rect x="1120" y="320.64" width="56.8" height="21.06" fill="#edc9c2"/>
<text x="1051" y="335.6" class="ls">AZ</text>
<text x="1174.4" y="335.6" class="lv" style="">14%</text>
<rect x="1120" y="341.40" width="56.8" height="21.06" fill="#eccbc5"/>
<text x="1051" y="356.4" class="ls">CO</text>
<text x="1174.4" y="356.4" class="lv" style="">14%</text>
<rect x="1120" y="362.16" width="56.8" height="21.06" fill="#e2d6d5"/>
<text x="1051" y="377.2" class="ls">DC</text>
<text x="1174.4" y="377.2" class="lv" style="">13%</text>
<rect x="1120" y="382.92" width="56.8" height="21.06" fill="#e0d6d6"/>
<text x="1051" y="397.9" class="ls">MI</text>
<text x="1174.4" y="397.9" class="lv" style="">13%</text>
<rect x="1120" y="403.68" width="56.8" height="16.52" fill="#ddd7d8"/>
<text x="1051" y="418.7" class="ls">US</text>
<text x="1174.4" y="418.7" class="lv" style="">13%</text>
</g>
<text x="19.5" y="524.5" font-size="11.6" fill="#6a6a6a" stroke="#6a6a6a" stroke-width="0.25" textLength="294" lengthAdjust="spacing">Source: NAR analysis of Black Knight Deeds data</text>
<!-- logo -->
<g>
<rect x="1015.1" y="500.4" width="44.7" height="45.7" fill="#1c6db5"/>
<path d="M1020.6,506 H1033.6 V540 H1020.6Z" fill="#fff"/>
<path d="M1038.3,506 H1046 A8.9,8.9 0 0 1 1046,523.8 H1040 L1056.1,540 H1038.3Z" fill="#fff"/>
<text x="1072.5" y="511.7" font-size="15.3" font-weight="bold" fill="#111" stroke="#111" stroke-width="0.35" textLength="87" lengthAdjust="spacingAndGlyphs">NATIONAL</text>
<text x="1072.5" y="528.6" font-size="15.3" font-weight="bold" fill="#111" stroke="#111" stroke-width="0.35" textLength="148" lengthAdjust="spacingAndGlyphs">ASSOCIATION OF</text>
<text x="1072.5" y="545.2" font-size="15.3" font-weight="bold" fill="#1c6db5" stroke="#1c6db5" stroke-width="0.35" textLength="87" lengthAdjust="spacingAndGlyphs">REALTORS</text>
<text x="1163.5" y="541" font-size="9" font-weight="bold" fill="#1c6db5">®</text>
</g>
</svg>
</body></html>
